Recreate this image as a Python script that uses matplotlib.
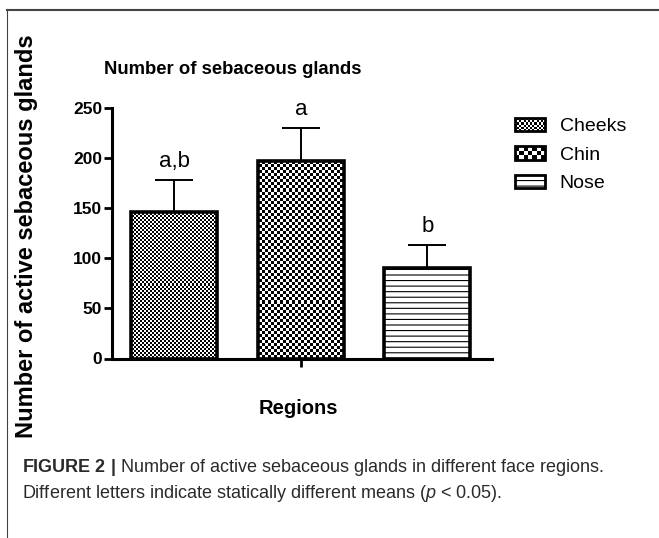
# Bar chart: number of active sebaceous glands per face region (mean + SEM)
import numpy as np
import matplotlib
matplotlib.use("Agg")
import matplotlib.pyplot as plt
from matplotlib.patches import Rectangle, Patch
from matplotlib.lines import Line2D
from matplotlib.legend_handler import HandlerBase

# data
regions = ["Cheeks", "Chin", "Nose"]
means = [146, 197, 90]
sem = [32, 33, 23]
letters = ["a,b", "a", "b"]
yticks = [0, 50, 100, 150, 200, 250]

plt.rcParams["font.family"] = "Liberation Sans"
plt.rcParams["mathtext.fontset"] = "custom"
plt.rcParams["mathtext.rm"] = "Liberation Sans"
plt.rcParams["mathtext.it"] = "Liberation Sans:italic"
plt.rcParams["mathtext.bf"] = "Liberation Sans:bold"
plt.rcParams["hatch.linewidth"] = 0.8

W, H = 659, 538
fig = plt.figure(figsize=(W / 100, H / 100), dpi=100)
ax_pos = [112 / W, 1 - 358.5 / H, 380 / W, 250.5 / H]
ax = fig.add_axes(ax_pos)

x = np.arange(len(regions))
bars = ax.bar(x, means, width=0.68, color=["none", "none", "white"],
              edgecolor="black", linewidth=2.6, zorder=3,
              yerr=[np.zeros(len(sem)), sem], capsize=14,
              error_kw=dict(elinewidth=1.4, capthick=1.4, zorder=2))
bars[2].set_hatch("---")

ax.set_xlim(-0.494, 2.51)
ax.set_ylim(0, 250)


# checkerboard fills for cheeks and chin, clipped to the bars
def checker(cell):
    nx = int(round(ax_pos[2] * W / cell))
    ny = int(round(ax_pos[3] * H / cell))
    return np.indices((ny, nx)).sum(axis=0) % 2


for bar, cell in zip(bars[:2], [2, 3]):
    im = ax.imshow(checker(cell), cmap="gray", extent=(*ax.get_xlim(), *ax.get_ylim()),
                   aspect="auto", interpolation="nearest", origin="lower", zorder=2.5)
    im.set_clip_path(bar)
ax.set_xlim(-0.494, 2.51)
ax.set_ylim(0, 250)

# significance letters
for xi, m, s, lab in zip(x, means, sem, letters):
    ax.text(xi, m + s + 13, lab, ha="center", va="baseline", fontsize=16)

ax.spines[["top", "right"]].set_visible(False)
ax.spines[["left", "bottom"]].set_linewidth(2.2)
ax.set_yticks(yticks)
ax.set_yticklabels([str(v) for v in yticks], fontweight="bold", fontsize=12.5)
ax.tick_params(axis="y", length=6, width=2, pad=1)
ax.set_xticks([1])
ax.set_xticklabels([""])
ax.tick_params(axis="x", length=6, width=2)

fig.text(27 / W, 1 - 236 / H, "Number of active sebaceous glands", rotation=90,
         ha="center", va="center", fontsize=17, fontweight="bold")
fig.text(233 / W, 1 - 70 / H, "Number of sebaceous glands",
         ha="center", va="center", fontsize=13.3, fontweight="bold")
fig.text(298 / W, 1 - 409 / H, "Regions",
         ha="center", va="center", fontsize=14.5, fontweight="bold")


class CheckerHandler(HandlerBase):
    def __init__(self, nrows, ncols):
        super().__init__()
        self.nrows, self.ncols = nrows, ncols

    def create_artists(self, legend, orig_handle, xdescent, ydescent,
                       width, height, fontsize, trans):
        x0, y0 = -xdescent, -ydescent
        cw, ch = width / self.ncols, height / self.nrows
        arts = [Rectangle((x0, y0), width, height, facecolor="white",
                          edgecolor="none", transform=trans)]
        for i in range(self.nrows):
            for j in range(self.ncols):
                if (i + j) % 2 == 0:
                    arts.append(Rectangle((x0 + j * cw, y0 + i * ch), cw, ch,
                                          facecolor="black", edgecolor="none",
                                          transform=trans))
        arts.append(Rectangle((x0, y0), width, height, facecolor="none",
                              edgecolor="black", linewidth=2, transform=trans))
        return arts


h_cheeks = Patch(label=regions[0])
h_chin = Patch(label=regions[1])
h_nose = Patch(facecolor="white", edgecolor="black", linewidth=2, hatch="---",
               label=regions[2])
ax.legend(handles=[h_cheeks, h_chin, h_nose],
          handler_map={h_cheeks: CheckerHandler(6, 14), h_chin: CheckerHandler(3, 7)},
          loc="upper left", bbox_to_anchor=(515 / W, 1 - 118 / H),
          bbox_transform=fig.transFigure, frameon=False, fontsize=14,
          borderpad=0, borderaxespad=0, handlelength=1.55, handleheight=0.67,
          handletextpad=0.75, labelspacing=0.56)

# caption
fig.text(22 / W, 1 - 468 / H,
         r"$\mathbf{FIGURE\ 2\ |}$ Number of active sebaceous glands in different face regions.",
         ha="left", va="center", fontsize=13, color="#2a2a2a")
fig.text(22 / W, 1 - 493 / H,
         r"Different letters indicate statically different means ($p$ < 0.05).",
         ha="left", va="center", fontsize=13, color="#2a2a2a")

# frame lines of the figure panel
fig.add_artist(Line2D([7 / W, 1], [1 - 10 / H] * 2, transform=fig.transFigure,
                      color="#444444", linewidth=1.5))
fig.add_artist(Line2D([7 / W] * 2, [0, 1 - 10 / H], transform=fig.transFigure,
                      color="#444444", linewidth=0.8))

fig.savefig("out.png", dpi=100)
